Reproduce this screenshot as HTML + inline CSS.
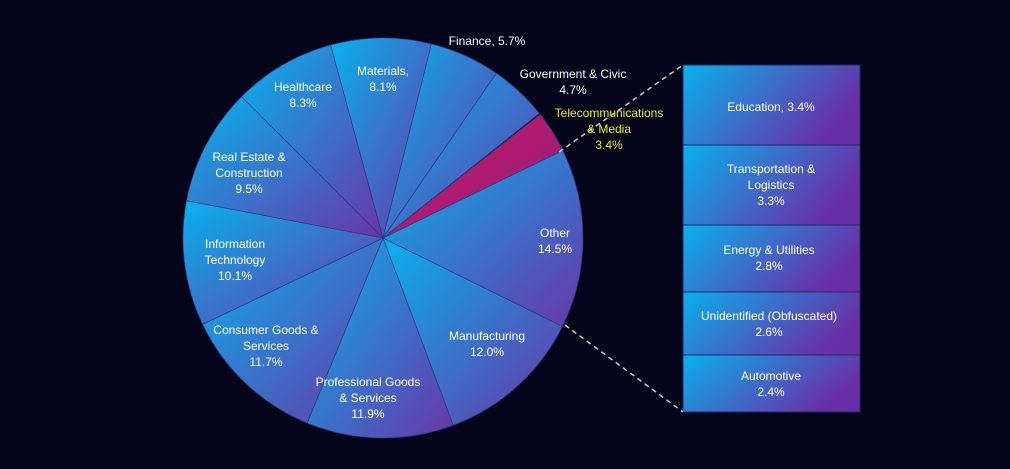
<!DOCTYPE html>
<html><head><meta charset="utf-8"><style>
html,body{margin:0;padding:0;background:#03041a;}
svg{display:block;font-family:"Liberation Sans",sans-serif;}
text{fill:#fff;font-size:12px;text-anchor:middle;}
</style></head><body>
<svg id="s" width="1010" height="469" viewBox="0 0 1010 469">
<defs>
<linearGradient id="g" x1="0" y1="0" x2="1" y2="1"><stop offset="0" stop-color="#08b2ee"/><stop offset="1" stop-color="#6a35a6"/></linearGradient>
<linearGradient id="gh" x1="0" y1="0" x2="1" y2="0.4"><stop offset="0" stop-color="#08b2ee"/><stop offset="1" stop-color="#6a2fa6"/></linearGradient>
<linearGradient id="r" x1="0" y1="0" x2="1" y2="1"><stop offset="0" stop-color="#d41650"/><stop offset="1" stop-color="#8a2090"/></linearGradient>
</defs>
<g id="pie"></g>
<g id="bar"></g>
<line x1="559" y1="152" x2="683" y2="65" stroke="#ccc" stroke-width="1.5" stroke-dasharray="5,4"/>
<line x1="565" y1="325" x2="683" y2="412" stroke="#ccc" stroke-width="1.5" stroke-dasharray="5,4"/>
<text x="487" y="45">Finance, 5.7%</text>
<text x="573" y="78">Government &amp; Civic</text><text x="573" y="94">4.7%</text>
<text x="609" y="117" style="fill:#f2f200">Telecommunications</text><text x="609" y="133" style="fill:#f2f200">&amp; Media</text><text x="609" y="149" style="fill:#f2f200">3.4%</text>
<text x="555" y="237">Other</text><text x="555" y="253">14.5%</text>
<text x="487" y="340">Manufacturing</text><text x="487" y="356">12.0%</text>
<text x="368" y="386">Professional Goods</text><text x="368" y="402">&amp; Services</text><text x="368" y="418">11.9%</text>
<text x="266" y="334">Consumer Goods &amp;</text><text x="266" y="350">Services</text><text x="266" y="366">11.7%</text>
<text x="235" y="248">Information</text><text x="235" y="264">Technology</text><text x="235" y="280">10.1%</text>
<text x="249" y="161">Real Estate &amp;</text><text x="249" y="177">Construction</text><text x="249" y="193">9.5%</text>
<text x="303" y="91">Healthcare</text><text x="303" y="107">8.3%</text>
<text x="383" y="75">Materials,</text><text x="383" y="91">8.1%</text>
<text x="771" y="111">Education, 3.4%</text>
<text x="771" y="173">Transportation &amp;</text><text x="771" y="189">Logistics</text><text x="771" y="205">3.3%</text>
<text x="769" y="254">Energy &amp; Utilities</text><text x="769" y="270">2.8%</text>
<text x="769" y="320">Unidentified (Obfuscated)</text><text x="769" y="336">2.6%</text>
<text x="771" y="380">Automotive</text><text x="771" y="396">2.4%</text>
</svg>
<script>
var cx=383,cy=238,R=200,a=-38.2;
var v=[3.4,14.5,12.0,11.9,11.7,10.1,9.5,8.3,8.1,5.7,4.7],h='';
for(var i=0;i<v.length;i++){var b=a+v[i]*3.6,r1=a*Math.PI/180,r2=b*Math.PI/180;
h+='<path d="M'+cx+','+cy+'L'+(cx+R*Math.cos(r1))+','+(cy+R*Math.sin(r1))+'A'+R+','+R+' 0 '+(b-a>180?1:0)+' 1 '+(cx+R*Math.cos(r2))+','+(cy+R*Math.sin(r2))+'Z" fill="url(#'+(i==0?'r':'g')+')" stroke="#2a3a7a" stroke-width="0.7"/>';a=b;}
document.getElementById('pie').innerHTML=h;
var y=65,hs=[80,80,67,63,57],bh='';
for(var j=0;j<5;j++){bh+='<rect x="683" y="'+y+'" width="177" height="'+hs[j]+'" fill="url(#gh)" stroke="#1a2a6a" stroke-width="1"/>';y+=hs[j];}
document.getElementById('bar').innerHTML=bh;
</script>
</body></html>
